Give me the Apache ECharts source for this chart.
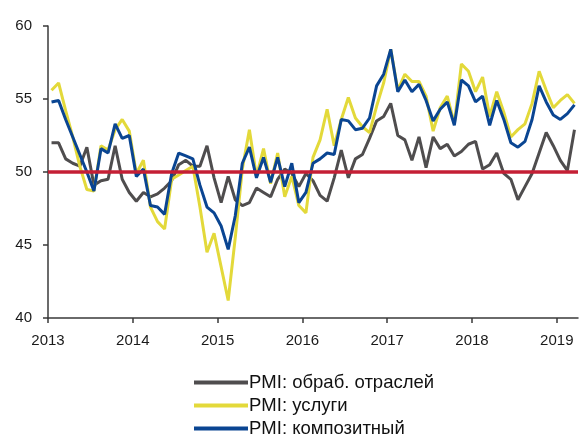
<!DOCTYPE html>
<html>
<head>
<meta charset="utf-8">
<script src="https://cdn.jsdelivr.net/npm/echarts@6/dist/echarts.min.js"></script>
<style>
  html, body { margin: 0; padding: 0; background: #fff; }
  #chart { width: 582px; height: 434px; }
</style>
</head>
<body>
<div id="chart"></div>
<script>
// monthly PMI, Jan 2013 .. Mar 2019
const startYear = 2013;
const yearTicks = [2013, 2014, 2015, 2016, 2017, 2018, 2019];
const seriesNames = ['PMI: обраб. отраслей', 'PMI: услуги', 'PMI: композитный'];

const manufacturing = [
  52.0, 52.0, 50.9, 50.6, 50.4, 51.7, 49.1, 49.4, 49.5, 51.8, 49.5, 48.6,
  48.0, 48.6, 48.3, 48.5, 48.9, 49.4, 50.5, 50.8, 50.4, 50.4, 51.8, 49.6,
  47.9, 49.7, 48.1, 47.7, 47.9, 48.9, 48.6, 48.3, 49.5, 50.2, 49.9, 49.0,
  49.9, 49.4, 48.4, 48.0, 49.6, 51.5, 49.6, 50.9, 51.2, 52.3, 53.5, 53.8,
  54.7, 52.5, 52.2, 50.8, 52.4, 50.3, 52.4, 51.6, 51.9, 51.1, 51.4, 51.9,
  52.1, 50.2, 50.5, 51.3, 49.9, 49.5, 48.1, 49.0, 49.9, 51.3, 52.7, 51.8,
  50.8, 50.1, 52.9
];

const services = [
  55.6, 56.1, 54.2, 52.4, 50.4, 48.8, 48.7, 51.8, 51.5, 52.9, 53.6, 52.8,
  49.9, 50.8, 47.6, 46.6, 46.1, 49.5, 49.8, 50.1, 50.4, 47.6, 44.5, 45.8,
  43.5, 41.2, 45.5, 50.2, 52.9, 49.7, 51.6, 49.2, 51.3, 48.3, 49.7, 47.7,
  47.2, 51.0, 52.2, 54.3, 51.8, 53.6, 55.1, 53.7, 53.1, 52.7, 54.5, 56.1,
  58.4, 55.6, 56.7, 56.2, 56.2, 55.2, 52.8, 54.4, 55.2, 53.3, 57.4, 56.9,
  55.5, 56.5, 53.8, 55.5, 54.1, 52.4, 52.9, 53.3, 54.7, 56.9, 55.6, 54.4,
  54.9, 55.3, 54.7
];

const composite = [
  54.8, 54.9, 53.6, 52.4, 51.2, 50.0, 48.7, 51.6, 51.3, 53.3, 52.3, 52.5,
  49.7, 50.2, 47.7, 47.6, 47.1, 49.9, 51.3, 51.1, 50.9, 49.1, 47.6, 47.2,
  46.3, 44.7, 47.0, 50.6, 51.7, 49.6, 51.0, 49.3, 51.0, 49.0, 50.6, 47.9,
  48.6, 50.6, 50.9, 51.3, 51.2, 53.6, 53.5, 52.9, 53.0, 53.7, 55.9, 56.7,
  58.4, 55.5, 56.3, 55.5, 56.0, 54.9, 53.5, 54.3, 54.8, 53.2, 56.3, 55.9,
  54.8, 55.2, 53.2, 54.9, 53.6, 52.0, 51.7, 52.1, 53.6, 55.9, 54.8, 53.9,
  53.6, 54.0, 54.6
];

const threshold = 50;

const colors = ['#4f4d4e', '#e3d93a', '#0a4592'];
const fontFamily = '"Liberation Sans", Arial, sans-serif';

// mid-month position on a year scale
function toPoints(values) {
  return values.map((v, i) => [startYear + (i + 0.5) / 12, v]);
}

const chart = echarts.init(document.getElementById('chart'), null, { renderer: 'canvas' });

const series = [manufacturing, services, composite].map((values, idx) => ({
  name: seriesNames[idx],
  type: 'line',
  data: toPoints(values),
  symbol: 'none',
  smooth: false,
  lineStyle: { width: 3, color: colors[idx] },
  itemStyle: { color: colors[idx] },
  z: 2 + idx
}));

// red 50 line
series[2].markLine = {
  silent: true,
  symbol: 'none',
  label: { show: false },
  lineStyle: { color: '#c41f35', width: 3.5, type: 'solid' },
  data: [{ yAxis: threshold }]
};

chart.setOption({
  animation: false,
  textStyle: { fontFamily },
  grid: { left: 48, right: 4, top: 26, bottom: 116, containLabel: false },
  xAxis: {
    type: 'value',
    min: 2013,
    max: 2019.25,
    interval: 1,
    axisLine: { show: true, lineStyle: { color: '#3a3a3a', width: 1.5 } },
    axisTick: { show: true, length: 5, customValues: yearTicks, lineStyle: { color: '#3a3a3a', width: 1.5 } },
    axisLabel: {
      customValues: yearTicks,
      formatter: v => String(Math.round(v)),
      color: '#1a1a1a',
      fontSize: 15,
      margin: 15
    },
    splitLine: { show: false }
  },
  yAxis: {
    type: 'value',
    min: 40,
    max: 60,
    interval: 5,
    axisLine: { show: true, lineStyle: { color: '#3a3a3a', width: 1.5 } },
    axisTick: { show: true, length: 5, lineStyle: { color: '#3a3a3a', width: 1.5 } },
    axisLabel: { color: '#1a1a1a', fontSize: 15, margin: 16 },
    splitLine: { show: false }
  },
  legend: {
    orient: 'vertical',
    left: 194,
    top: 371,
    height: 80,
    padding: 0,
    icon: 'rect',
    itemWidth: 54,
    itemHeight: 4,
    itemGap: 0,
    data: seriesNames,
    textStyle: { color: '#111', fontSize: 18.5, lineHeight: 23, padding: [0, 0, 0, -4] }
  },
  series
});
</script>
</body>
</html>
